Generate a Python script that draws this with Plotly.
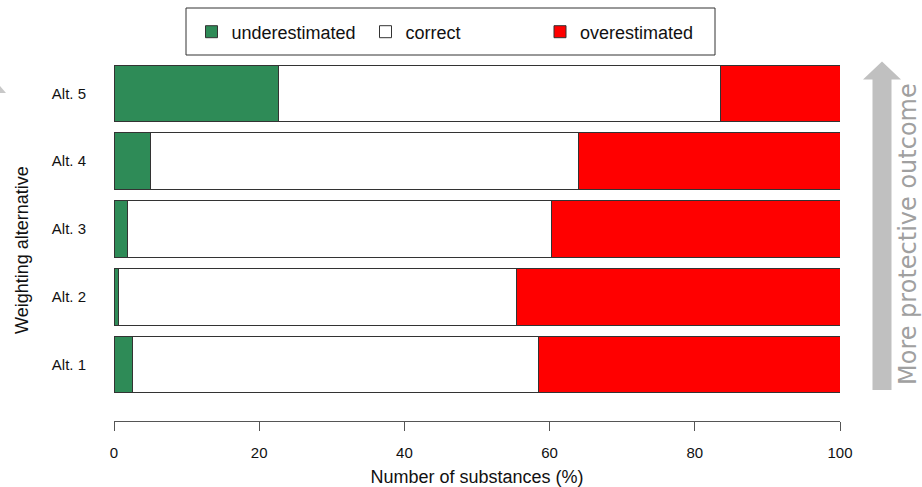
import plotly.graph_objects as go

# Share of substances (%) per weighting alternative
alternatives = ["Alt. 1", "Alt. 2", "Alt. 3", "Alt. 4", "Alt. 5"]
underestimated = [2.5, 0.6, 1.9, 5.0, 22.6]
correct = [56.0, 54.8, 58.4, 59.0, 61.0]
overestimated = [41.5, 44.6, 39.7, 36.0, 16.4]

x_ticks = [0, 20, 40, 60, 80, 100]

W, H = 922, 487
ML, MR, MT, MB = 114, 82, 55, 66
PW, PH = W - ML - MR, H - MT - MB


def px_x(p):
    """pixel column -> paper x"""
    return (p - ML) / PW


def px_y(p):
    """pixel row -> paper y"""
    return (H - MB - p) / PH


edge = dict(color="#333333", width=1)
series = [
    ("underestimated", underestimated, "#2E8B57", "legend", 191.5),
    ("correct", correct, "#FFFFFF", "legend2", 365.5),
    ("overestimated", overestimated, "#FF0000", "legend3", 540),
]

fig = go.Figure()
for name, vals, col, leg, _ in series:
    fig.add_trace(go.Bar(
        y=alternatives, x=vals, name=name, orientation="h",
        marker=dict(color=col, line=edge), width=0.84, legend=leg,
    ))

# one single-entry legend per series, laid out side by side in a shared frame
legend_style = dict(
    orientation="h", xanchor="left", y=px_y(32), yanchor="middle",
    bgcolor="rgba(0,0,0,0)", borderwidth=0,
    font=dict(family="Liberation Sans, Arial", size=18, color="#111111"),
)
legends = {leg: dict(legend_style, x=px_x(lx)) for _, _, _, leg, lx in series}

# upward arrow on the right
ax0, ax1 = px_x(872.5), px_x(891.5)
hx0, hx1 = px_x(863), px_x(901)
tipx = px_x(882)
arrow_path = (
    f"M {ax0} {px_y(390)} L {ax0} {px_y(79.5)} L {hx0} {px_y(79.5)} "
    f"L {tipx} {px_y(61.5)} L {hx1} {px_y(79.5)} L {ax1} {px_y(79.5)} "
    f"L {ax1} {px_y(390)} Z"
)
# small arrowhead fragment at the left edge
frag_path = f"M {px_x(0)} {px_y(86)} L {px_x(6)} {px_y(93)} L {px_x(0)} {px_y(93)} Z"

shapes = [
    dict(type="path", xref="paper", yref="paper", path=arrow_path,
         fillcolor="#C0C0C0", line=dict(width=0), layer="below"),
    dict(type="path", xref="paper", yref="paper", path=frag_path,
         fillcolor="#C8C8C8", line=dict(width=0), layer="below"),
    # legend frame
    dict(type="rect", xref="paper", yref="paper",
         x0=px_x(186), x1=px_x(715), y0=px_y(55), y1=px_y(8),
         line=dict(color="#333333", width=1), fillcolor="white", layer="below"),
]

annotations = [
    dict(text="Weighting alternative", xref="paper", yref="paper",
         x=px_x(22), y=px_y(250), textangle=-90, showarrow=False,
         xanchor="center", yanchor="middle",
         font=dict(family="Liberation Sans, Arial", size=18, color="#111111")),
    dict(text="More protective outcome", xref="paper", yref="paper",
         x=px_x(908), y=px_y(234), textangle=-90, showarrow=False,
         xanchor="center", yanchor="middle",
         font=dict(family="DejaVu Sans", size=24, color="#A0A0A0")),
]

fig.update_layout(
    width=W, height=H,
    margin=dict(l=ML, r=MR, t=MT, b=MB, pad=0, autoexpand=False),
    barmode="stack",
    plot_bgcolor="white", paper_bgcolor="white",
    font=dict(family="Liberation Sans, Arial", size=15, color="#111111"),
    showlegend=True,
    shapes=shapes,
    annotations=annotations,
    xaxis=dict(
        range=[0, 100], tickvals=x_ticks, ticktext=[str(v) for v in x_ticks],
        showline=True, linecolor="#555555", linewidth=1,
        ticks="outside", ticklen=9, tickcolor="#555555",
        ticklabelstandoff=9, automargin=False,
        showgrid=False, zeroline=False,
        title=dict(text="Number of substances (%)", standoff=11,
                   font=dict(size=18)),
        tickfont=dict(size=15),
    ),
    yaxis=dict(
        type="category", categoryorder="array", categoryarray=alternatives,
        range=[-0.834, 4.568], showgrid=False, zeroline=False,
        showline=False, ticks="", ticklabelstandoff=27, automargin=False,
        tickfont=dict(size=15),
    ),
    **legends,
)

fig.write_html("out.html")
